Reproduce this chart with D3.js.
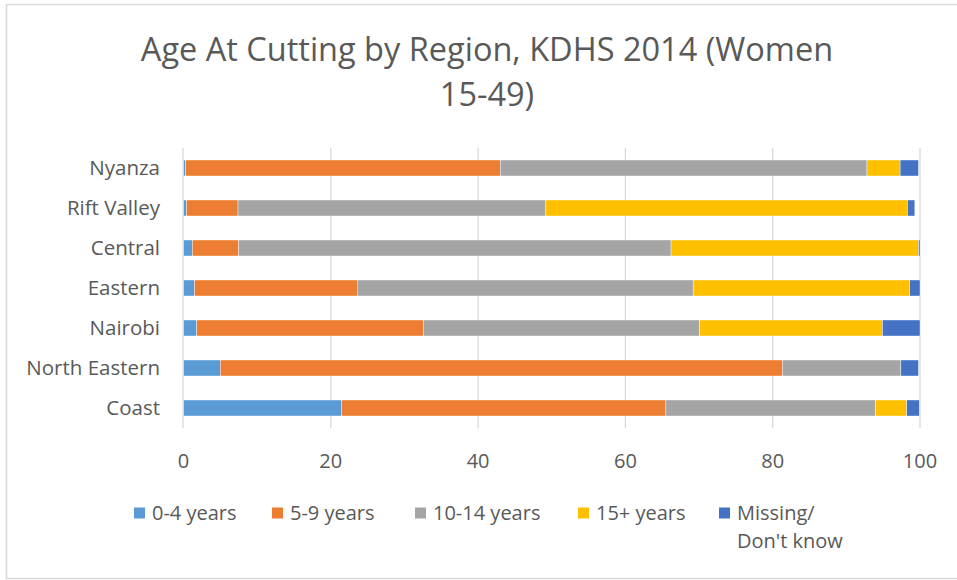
<!DOCTYPE html>
<html>
<head>
<meta charset="utf-8">
<script src="https://cdn.jsdelivr.net/npm/d3@7/dist/d3.min.js"></script>
<style>
  body { margin: 0; padding: 0; overflow: hidden; background: #fff; }
  text { font-family: "Open Sans", "Noto Sans", sans-serif; fill: #595959; }
</style>
</head>
<body>
<script>
  const regions = ["Nyanza", "Rift Valley", "Central", "Eastern", "Nairobi", "North Eastern", "Coast"];
  const seriesNames = ["0-4 years", "5-9 years", "10-14 years", "15+ years", "Missing/ Don't know"];
  const age0to4   = [0.3, 0.4, 1.2, 1.5, 1.8, 5.0, 21.5];
  const age5to9   = [42.7, 7.0, 6.3, 22.1, 30.8, 76.3, 44.0];
  const age10to14 = [49.8, 41.8, 58.7, 45.6, 37.5, 16.1, 28.5];
  const age15plus = [4.5, 49.1, 33.6, 29.4, 24.8, 0.0, 4.2];
  const missing   = [2.5, 1.0, 0.2, 1.4, 5.1, 2.4, 1.7];
  const xTicks = [0, 20, 40, 60, 80, 100];

  const colors = ["#5b9bd5", "#ed7d31", "#a5a5a5", "#ffc000", "#4472c4"];
  const keys = ["a", "b", "c", "d", "e"];

  const width = 957, height = 580;
  const rows = regions.map((r, i) => ({
    region: r, a: age0to4[i], b: age5to9[i], c: age10to14[i], d: age15plus[i], e: missing[i]
  }));

  const svg = d3.select("body").append("svg")
    .attr("width", width)
    .attr("height", height);

  // chart border
  svg.append("rect")
    .attr("x", 6.5).attr("y", 4.5)
    .attr("width", 960).attr("height", 574)
    .attr("fill", "#fff")
    .attr("stroke", "#d9d9d9")
    .attr("stroke-width", 1.5);

  const x = d3.scaleLinear().domain([0, 100]).range([183.5, 920]);
  const y = d3.scaleBand().domain(regions).range([148, 428]).paddingInner(0.6).paddingOuter(0.3);

  // gridlines
  svg.append("g").selectAll("line")
    .data(xTicks.slice(1))
    .enter().append("line")
    .attr("x1", d => x(d)).attr("x2", d => x(d))
    .attr("y1", 148).attr("y2", 428)
    .attr("stroke", "#d9d9d9")
    .attr("stroke-width", 1.3);

  const stack = d3.stack().keys(keys)(rows);

  svg.append("g").selectAll("g")
    .data(stack)
    .enter().append("g")
    .attr("fill", (d, i) => colors[i])
    .selectAll("rect")
    .data(d => d)
    .enter().append("rect")
    .attr("x", d => x(d[0]))
    .attr("y", d => y(d.data.region))
    .attr("width", d => Math.max(0, x(d[1]) - x(d[0])))
    .attr("height", y.bandwidth())
    .attr("stroke", "#fff")
    .attr("stroke-width", 0.4);

  // category axis line
  svg.append("line")
    .attr("x1", 183).attr("x2", 183)
    .attr("y1", 148).attr("y2", 428)
    .attr("stroke", "#d9d9d9")
    .attr("stroke-width", 1.3);

  // category labels
  svg.append("g").selectAll("text")
    .data(regions)
    .enter().append("text")
    .attr("x", 160)
    .attr("y", d => y(d) + y.bandwidth() / 2)
    .attr("dy", "0.35em")
    .attr("text-anchor", "end")
    .style("font-size", "20.5px")
    .text(d => d);

  // value axis labels
  svg.append("g").selectAll("text")
    .data(xTicks)
    .enter().append("text")
    .attr("x", d => x(d))
    .attr("y", 461)
    .attr("dy", "0.35em")
    .attr("text-anchor", "middle")
    .style("font-size", "20px")
    .text(d => d);

  // title
  const title = svg.append("text")
    .attr("text-anchor", "middle")
    .style("font-size", "32.5px");
  title.append("tspan").attr("x", 487).attr("y", 61).text("Age At Cutting by Region, KDHS 2014 (Women");
  title.append("tspan").attr("x", 487).attr("y", 106).text("15-49)");

  // legend
  const legendX = [134, 272, 415, 578, 719];
  const legend = svg.append("g").selectAll("g")
    .data(seriesNames)
    .enter().append("g")
    .attr("transform", (d, i) => `translate(${legendX[i]},513)`);

  legend.append("rect")
    .attr("x", 0).attr("y", -5.5)
    .attr("width", 11).attr("height", 11)
    .attr("fill", (d, i) => colors[i]);

  legend.append("text")
    .attr("x", 18)
    .attr("dy", "0.35em")
    .style("font-size", "20px")
    .each(function(d) {
      if (d.startsWith("Missing/")) {
        d3.select(this).append("tspan").attr("x", 18).text("Missing/");
        d3.select(this).append("tspan").attr("x", 18).attr("dy", "1.4em").text("Don't know");
      } else {
        d3.select(this).text(d);
      }
    });
</script>
</body>
</html>
